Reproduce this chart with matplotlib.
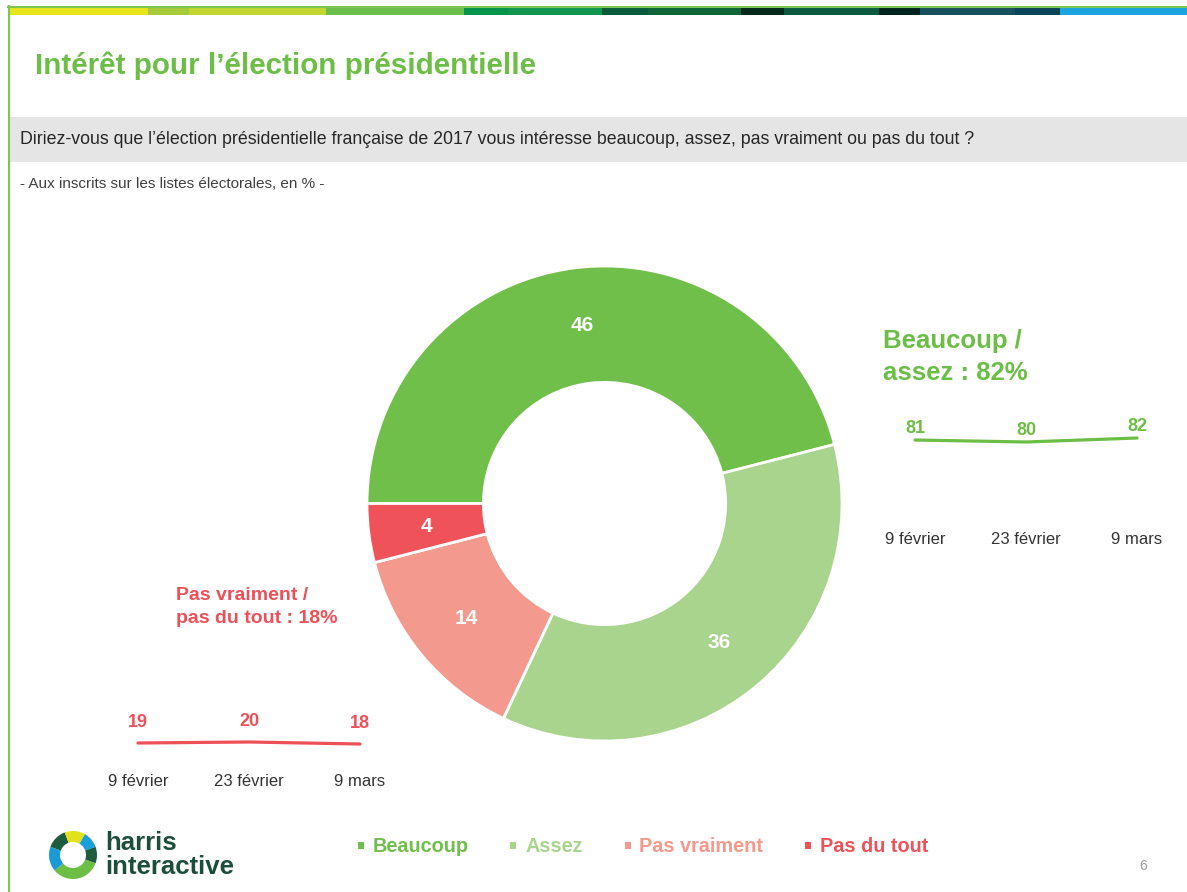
import matplotlib.pyplot as plt
from matplotlib.patches import Rectangle, Wedge

plt.rcParams['font.family'] = ['Liberation Sans', 'DejaVu Sans']

# Données du graphique
categories = ['Beaucoup', 'Assez', 'Pas vraiment', 'Pas du tout']
values = [46, 36, 14, 4]
colors = ['#71BF4B', '#A9D48E', '#F4998E', '#EF5359']

dates = ['9 février', '23 février', '9 mars']
interet = [81, 80, 82]       # beaucoup / assez
desinteret = [19, 20, 18]    # pas vraiment / pas du tout

GREEN = '#6CBE46'
RED = '#EE5058'
W, H = 1187, 892

fig = plt.figure(figsize=(W / 100, H / 100), dpi=100)
bg = fig.add_axes([0, 0, 1, 1])
bg.set_xlim(0, W)
bg.set_ylim(H, 0)
bg.axis('off')


def px_axes(x0, y0, x1, y1):
    # axes placé en pixels (origine en haut à gauche)
    return fig.add_axes([x0 / W, 1 - y1 / H, (x1 - x0) / W, (y1 - y0) / H])


# bandeau de couleurs en haut
segs = [(148, '#E8E41A'), (189, '#A8CB3A'), (326, '#C3D62F'), (464, '#6CBE4A'),
        (508, '#00954A'), (602, '#10964F'), (648, '#075A3A'), (741, '#0F6437'),
        (784, '#00291A'), (879, '#0B5A40'), (920, '#00231D'), (1015, '#184F5E'),
        (1060, '#0A4458'), (1187, '#1BA5E0')]
start = 9
for end, c in segs:
    bg.add_patch(Rectangle((start, 7), end - start, 8, color=c, lw=0))
    start = end
bg.plot([8, W], [6.5, 6.5], color='#7CC653', lw=1.5)
bg.plot([8.5, 8.5], [6, H], color='#7CC653', lw=1.5)

# titre et question
bg.text(35, 66, 'Intérêt pour l’élection présidentielle', color=GREEN,
        fontsize=21.3, fontweight='bold', va='center')
bg.add_patch(Rectangle((10, 117), W - 10, 45, color='#E5E5E5', lw=0))
bg.text(20, 140, 'Diriez-vous que l’élection présidentielle française de 2017 vous '
        'intéresse beaucoup, assez, pas vraiment ou pas du tout ?',
        fontsize=12.8, color='#262626', va='center')
bg.text(20, 184, '- Aux inscrits sur les listes électorales, en % -',
        fontsize=11, color='#404040', va='center')

# donut
ax = px_axes(367, 266, 842, 741)
wedges, texts, autotexts = ax.pie(
    values, colors=colors, startangle=180, counterclock=False, radius=1,
    autopct=lambda p: f'{p:.0f}', pctdistance=0.757,
    wedgeprops=dict(width=0.49, edgecolor='white', linewidth=2),
    textprops=dict(color='white', fontsize=15, fontweight='bold'))
ax.set_xlim(-1, 1)
ax.set_ylim(-1, 1)
ax.set_aspect('equal')


def trend(x0, x1, ytop, ybot, vals, ylim, color, offset):
    a = px_axes(x0, ytop, x1, ybot)
    xs = list(range(len(vals)))
    a.plot(xs, vals, color=color, lw=2.3, solid_capstyle='round', clip_on=False)
    for x, v in zip(xs, vals):
        a.annotate(str(v), (x, v), xytext=(0, offset), textcoords='offset points',
                   ha='center', va='center', color=color, fontsize=13,
                   fontweight='bold', annotation_clip=False)
    a.set_xlim(0, len(vals) - 1)
    a.set_ylim(*ylim)
    a.set_xticks(xs)
    a.set_xticklabels(dates, fontsize=12, color='#333333')
    a.set_yticks([])
    a.tick_params(length=0, pad=3)
    for s in a.spines.values():
        s.set_visible(False)
    a.patch.set_alpha(0)


# tendances
bg.text(883, 357, f'Beaucoup /\nassez : {interet[-1]}%', color=GREEN,
        fontsize=18.5, fontweight='bold', va='center', linespacing=1.42)
trend(915, 1137, 420, 528, interet, (37, 91), GREEN, 8.5)

bg.text(176, 607, f'Pas vraiment /\npas du tout : {desinteret[-1]}%', color=RED,
        fontsize=14, fontweight='bold', va='center', linespacing=1.4)
trend(138, 360, 700, 770, desinteret, (-8, 62), RED, 15)

# légende
leg = fig.legend(wedges, categories, loc='center left',
                 bbox_to_anchor=(340 / W, 1 - 847 / H),
                 ncol=4, frameon=False, handlelength=0.3, handleheight=0.2,
                 handletextpad=0.45, columnspacing=2.1, labelcolor=colors,
                 prop={'weight': 'bold', 'size': 14.3})
for h in leg.legend_handles:
    h.set_edgecolor('none')
    h.set_linewidth(0)

# logo
ring = [(20, 140, '#6DBE45'), (140, 200, '#1B9AD6'), (200, 250, '#1D5C3C'),
        (250, 300, '#E3E11C'), (300, 340, '#19A0DA'), (340, 380, '#1D5C3C')]
for t1, t2, c in ring:
    bg.add_patch(Wedge((73, 855), 24, t1, t2, width=11, color=c, lw=0))
bg.text(105, 843, 'harris', color='#1D4E3B', fontsize=18.5, fontweight='bold', va='center')
bg.text(105, 867, 'interactive', color='#1D4E3B', fontsize=18.5, fontweight='bold', va='center')

bg.text(1143, 866, '6', color='#999999', fontsize=10, va='center', ha='center')

fig.savefig('out.png', dpi=100)
